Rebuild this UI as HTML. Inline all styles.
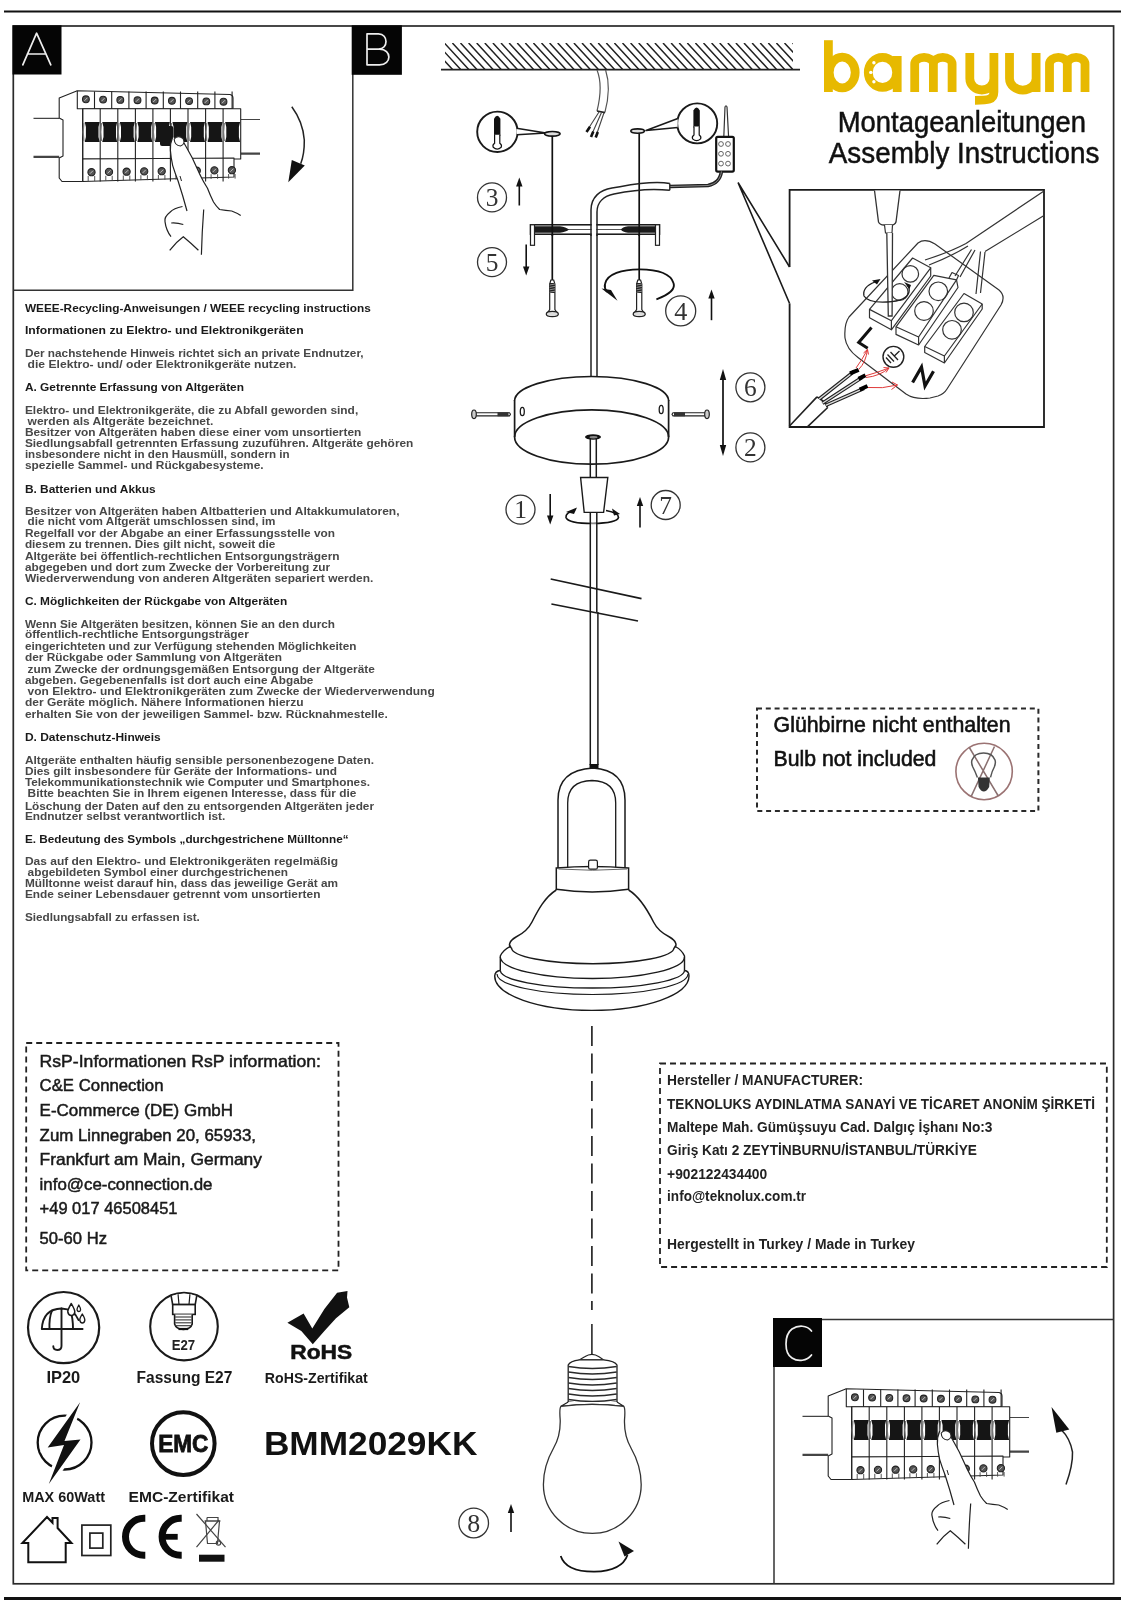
<!DOCTYPE html>
<html><head><meta charset="utf-8"><title>bamyum Montageanleitungen</title>
<style>html,body{margin:0;padding:0;background:#fff;} svg{display:block;will-change:transform;}</style>
</head><body>
<svg width="1124" height="1600" viewBox="0 0 1124 1600" font-family="Liberation Sans, sans-serif">
<rect width="1124" height="1600" fill="#fff"/>
<line x1="4" y1="11.5" x2="1121" y2="11.5" stroke="#111" stroke-width="1.8"/>
<line x1="4" y1="1598.6" x2="1121" y2="1598.6" stroke="#111" stroke-width="3.2"/>
<rect x="13.3" y="26" width="1100.3" height="1557.8" fill="none" stroke="#2a2a2a" stroke-width="1.7"/>
<polyline points="352.8,26 352.8,290.3 13.3,290.3" fill="none" stroke="#333" stroke-width="1.5"/>
<polyline points="774,1583.8 774,1319.4 1113.6,1319.4" fill="none" stroke="#333" stroke-width="1.5"/>
<rect x="12.5" y="25.3" width="49" height="49.2" fill="#050505"/>
<path d="M22.8,64.8 L36.6,33.2 L50.8,64.8 M27.3,54 L46.1,54" fill="none" stroke="#eee" stroke-width="1.7" stroke-linejoin="round" stroke-linecap="round"/>
<rect x="351.7" y="25.3" width="50.2" height="49.5" fill="#050505"/>
<path d="M367,33.8 L367,64.8 L379.5,64.8 C392,64.8 392,49.2 379.5,49.2 L367,49.2 M367,33.8 L378.5,33.8 C388.5,33.8 388.5,49.2 378.5,49.2" fill="none" stroke="#eee" stroke-width="1.7" stroke-linejoin="round" stroke-linecap="round"/>
<rect x="773" y="1318" width="49" height="49" fill="#050505"/>
<path d="M811.5,1331 C807,1325 798,1325 792,1329 C784,1335 784,1353 792,1358 C798,1362 807,1361 811.5,1355" fill="none" stroke="#eee" stroke-width="1.7" stroke-linejoin="round" stroke-linecap="round"/>
<g font-family="Liberation Sans, sans-serif">
<text x="24.9" y="311.79999999999995" font-size="10.8" font-weight="bold" fill="#1a1a1a" text-anchor="start" textLength="345.9" lengthAdjust="spacingAndGlyphs">WEEE-Recycling-Anweisungen / WEEE recycling instructions</text>
<text x="24.9" y="334.2" font-size="10.8" font-weight="bold" fill="#1a1a1a" text-anchor="start" textLength="278.7" lengthAdjust="spacingAndGlyphs">Informationen zu Elektro- und Elektronikgeräten</text>
<text x="24.9" y="357.3" font-size="11.0" font-weight="bold" fill="#484848" text-anchor="start" textLength="338.7" lengthAdjust="spacingAndGlyphs">Der nachstehende Hinweis richtet sich an private Endnutzer,</text>
<text x="27.6" y="368.1" font-size="11.0" font-weight="bold" fill="#484848" text-anchor="start" textLength="268.9" lengthAdjust="spacingAndGlyphs">die Elektro- und/ oder Elektronikgeräte nutzen.</text>
<text x="24.9" y="390.9" font-size="10.8" font-weight="bold" fill="#1a1a1a" text-anchor="start" textLength="219.1" lengthAdjust="spacingAndGlyphs">A. Getrennte Erfassung von Altgeräten</text>
<text x="24.9" y="413.8" font-size="11.0" font-weight="bold" fill="#484848" text-anchor="start" textLength="333.3" lengthAdjust="spacingAndGlyphs">Elektro- und Elektronikgeräte, die zu Abfall geworden sind,</text>
<text x="27.6" y="424.9" font-size="11.0" font-weight="bold" fill="#484848" text-anchor="start" textLength="185.8" lengthAdjust="spacingAndGlyphs">werden als Altgeräte bezeichnet.</text>
<text x="24.9" y="436.2" font-size="11.0" font-weight="bold" fill="#484848" text-anchor="start" textLength="336.4" lengthAdjust="spacingAndGlyphs">Besitzer von Altgeräten haben diese einer vom unsortierten</text>
<text x="24.9" y="447.1" font-size="11.0" font-weight="bold" fill="#484848" text-anchor="start" textLength="388.5" lengthAdjust="spacingAndGlyphs">Siedlungsabfall getrennten Erfassung zuzuführen. Altgeräte gehören</text>
<text x="24.9" y="458.1" font-size="11.0" font-weight="bold" fill="#484848" text-anchor="start" textLength="264.6" lengthAdjust="spacingAndGlyphs">insbesondere nicht in den Hausmüll, sondern in</text>
<text x="24.9" y="469.3" font-size="11.0" font-weight="bold" fill="#484848" text-anchor="start" textLength="238.7" lengthAdjust="spacingAndGlyphs">spezielle Sammel- und Rückgabesysteme.</text>
<text x="24.9" y="492.5" font-size="10.8" font-weight="bold" fill="#1a1a1a" text-anchor="start" textLength="130.7" lengthAdjust="spacingAndGlyphs">B. Batterien und Akkus</text>
<text x="24.9" y="514.8" font-size="11.0" font-weight="bold" fill="#484848" text-anchor="start" textLength="374.6" lengthAdjust="spacingAndGlyphs">Besitzer von Altgeräten haben Altbatterien und Altakkumulatoren,</text>
<text x="27.6" y="525.4" font-size="11.0" font-weight="bold" fill="#484848" text-anchor="start" textLength="247.8" lengthAdjust="spacingAndGlyphs">die nicht vom Altgerät umschlossen sind, im</text>
<text x="24.9" y="537.1" font-size="11.0" font-weight="bold" fill="#484848" text-anchor="start" textLength="310.1" lengthAdjust="spacingAndGlyphs">Regelfall vor der Abgabe an einer Erfassungsstelle von</text>
<text x="24.9" y="548.1" font-size="11.0" font-weight="bold" fill="#484848" text-anchor="start" textLength="250.5" lengthAdjust="spacingAndGlyphs">diesem zu trennen. Dies gilt nicht, soweit die</text>
<text x="24.9" y="559.8" font-size="11.0" font-weight="bold" fill="#484848" text-anchor="start" textLength="314.7" lengthAdjust="spacingAndGlyphs">Altgeräte bei öffentlich-rechtlichen Entsorgungsträgern</text>
<text x="24.9" y="570.8" font-size="11.0" font-weight="bold" fill="#484848" text-anchor="start" textLength="305.3" lengthAdjust="spacingAndGlyphs">abgegeben und dort zum Zwecke der Vorbereitung zur</text>
<text x="24.9" y="582.1" font-size="11.0" font-weight="bold" fill="#484848" text-anchor="start" textLength="348.4" lengthAdjust="spacingAndGlyphs">Wiederverwendung von anderen Altgeräten separiert werden.</text>
<text x="24.9" y="604.6" font-size="10.8" font-weight="bold" fill="#1a1a1a" text-anchor="start" textLength="262.3" lengthAdjust="spacingAndGlyphs">C. Möglichkeiten der Rückgabe von Altgeräten</text>
<text x="24.9" y="627.7" font-size="11.0" font-weight="bold" fill="#484848" text-anchor="start" textLength="310.1" lengthAdjust="spacingAndGlyphs">Wenn Sie Altgeräten besitzen, können Sie an den durch</text>
<text x="24.9" y="638.3" font-size="11.0" font-weight="bold" fill="#484848" text-anchor="start" textLength="223.9" lengthAdjust="spacingAndGlyphs">öffentlich-rechtliche Entsorgungsträger</text>
<text x="24.9" y="650.0" font-size="11.0" font-weight="bold" fill="#484848" text-anchor="start" textLength="331.5" lengthAdjust="spacingAndGlyphs">eingerichteten und zur Verfügung stehenden Möglichkeiten</text>
<text x="24.9" y="661.0" font-size="11.0" font-weight="bold" fill="#484848" text-anchor="start" textLength="257.1" lengthAdjust="spacingAndGlyphs">der Rückgabe oder Sammlung von Altgeräten</text>
<text x="27.6" y="672.7" font-size="11.0" font-weight="bold" fill="#484848" text-anchor="start" textLength="347.2" lengthAdjust="spacingAndGlyphs">zum Zwecke der ordnungsgemäßen Entsorgung der Altgeräte</text>
<text x="24.9" y="683.7" font-size="11.0" font-weight="bold" fill="#484848" text-anchor="start" textLength="288.5" lengthAdjust="spacingAndGlyphs">abgeben. Gegebenenfalls ist dort auch eine Abgabe</text>
<text x="27.6" y="695.4" font-size="11.0" font-weight="bold" fill="#484848" text-anchor="start" textLength="407.1" lengthAdjust="spacingAndGlyphs">von Elektro- und Elektronikgeräten zum Zwecke der Wiederverwendung</text>
<text x="24.9" y="706.4" font-size="11.0" font-weight="bold" fill="#484848" text-anchor="start" textLength="278.7" lengthAdjust="spacingAndGlyphs">der Geräte möglich. Nähere Informationen hierzu</text>
<text x="24.9" y="718.1" font-size="11.0" font-weight="bold" fill="#484848" text-anchor="start" textLength="362.9" lengthAdjust="spacingAndGlyphs">erhalten Sie von der jeweiligen Sammel- bzw. Rücknahmestelle.</text>
<text x="24.9" y="740.9" font-size="10.8" font-weight="bold" fill="#1a1a1a" text-anchor="start" textLength="135.8" lengthAdjust="spacingAndGlyphs">D. Datenschutz-Hinweis</text>
<text x="24.9" y="763.9" font-size="11.0" font-weight="bold" fill="#484848" text-anchor="start" textLength="349.1" lengthAdjust="spacingAndGlyphs">Altgeräte enthalten häufig sensible personenbezogene Daten.</text>
<text x="24.9" y="774.5" font-size="11.0" font-weight="bold" fill="#484848" text-anchor="start" textLength="312.0" lengthAdjust="spacingAndGlyphs">Dies gilt insbesondere für Geräte der Informations- und</text>
<text x="24.9" y="786.2" font-size="11.0" font-weight="bold" fill="#484848" text-anchor="start" textLength="345.1" lengthAdjust="spacingAndGlyphs">Telekommunikationstechnik wie Computer und Smartphones.</text>
<text x="27.6" y="797.2" font-size="11.0" font-weight="bold" fill="#484848" text-anchor="start" textLength="328.8" lengthAdjust="spacingAndGlyphs">Bitte beachten Sie in Ihrem eigenen Interesse, dass für die</text>
<text x="24.9" y="809.5" font-size="11.0" font-weight="bold" fill="#484848" text-anchor="start" textLength="349.1" lengthAdjust="spacingAndGlyphs">Löschung der Daten auf den zu entsorgenden Altgeräten jeder</text>
<text x="24.9" y="820.1" font-size="11.0" font-weight="bold" fill="#484848" text-anchor="start" textLength="200.4" lengthAdjust="spacingAndGlyphs">Endnutzer selbst verantwortlich ist.</text>
<text x="24.9" y="842.6" font-size="10.8" font-weight="bold" fill="#1a1a1a" text-anchor="start" textLength="323.7" lengthAdjust="spacingAndGlyphs">E. Bedeutung des Symbols „durchgestrichene Mülltonne“</text>
<text x="24.9" y="865.1" font-size="11.0" font-weight="bold" fill="#484848" text-anchor="start" textLength="313.1" lengthAdjust="spacingAndGlyphs">Das auf den Elektro- und Elektronikgeräten regelmäßig</text>
<text x="27.6" y="876.1" font-size="11.0" font-weight="bold" fill="#484848" text-anchor="start" textLength="260.4" lengthAdjust="spacingAndGlyphs">abgebildeten Symbol einer durchgestrichenen</text>
<text x="24.9" y="887.4" font-size="11.0" font-weight="bold" fill="#484848" text-anchor="start" textLength="313.1" lengthAdjust="spacingAndGlyphs">Mülltonne weist darauf hin, dass das jeweilige Gerät am</text>
<text x="24.9" y="898.4" font-size="11.0" font-weight="bold" fill="#484848" text-anchor="start" textLength="295.5" lengthAdjust="spacingAndGlyphs">Ende seiner Lebensdauer getrennt vom unsortierten</text>
<text x="24.9" y="921.1" font-size="11.0" font-weight="bold" fill="#484848" text-anchor="start" textLength="175.0" lengthAdjust="spacingAndGlyphs">Siedlungsabfall zu erfassen ist.</text>
</g>
<rect x="26.2" y="1043" width="312.3" height="227.4" fill="none" stroke="#222" stroke-width="1.8" stroke-dasharray="6,4"/>
<g font-family="Liberation Sans, sans-serif">
<text x="39.6" y="1066.7" font-size="17" font-weight="normal" fill="#1a1a1a" text-anchor="start" textLength="281.4" lengthAdjust="spacingAndGlyphs" stroke="#1a1a1a" stroke-width="0.5">RsP-Informationen RsP information:</text>
<text x="39.6" y="1091.0" font-size="17" font-weight="normal" fill="#1a1a1a" text-anchor="start" textLength="123.9" lengthAdjust="spacingAndGlyphs" stroke="#1a1a1a" stroke-width="0.5">C&amp;E Connection</text>
<text x="39.6" y="1116.0" font-size="17" font-weight="normal" fill="#1a1a1a" text-anchor="start" textLength="193.4" lengthAdjust="spacingAndGlyphs" stroke="#1a1a1a" stroke-width="0.5">E-Commerce (DE) GmbH</text>
<text x="39.6" y="1140.6" font-size="17" font-weight="normal" fill="#1a1a1a" text-anchor="start" textLength="216.4" lengthAdjust="spacingAndGlyphs" stroke="#1a1a1a" stroke-width="0.5">Zum Linnegraben 20, 65933,</text>
<text x="39.6" y="1164.8" font-size="17" font-weight="normal" fill="#1a1a1a" text-anchor="start" textLength="222.4" lengthAdjust="spacingAndGlyphs" stroke="#1a1a1a" stroke-width="0.5">Frankfurt am Main, Germany</text>
<text x="39.6" y="1189.5" font-size="17" font-weight="normal" fill="#1a1a1a" text-anchor="start" textLength="172.9" lengthAdjust="spacingAndGlyphs" stroke="#1a1a1a" stroke-width="0.5">info@ce-connection.de</text>
<text x="39.6" y="1213.7" font-size="17" font-weight="normal" fill="#1a1a1a" text-anchor="start" textLength="137.9" lengthAdjust="spacingAndGlyphs" stroke="#1a1a1a" stroke-width="0.5">+49 017 46508451</text>
<text x="39.6" y="1244.3" font-size="17" font-weight="normal" fill="#1a1a1a" text-anchor="start" textLength="67.4" lengthAdjust="spacingAndGlyphs" stroke="#1a1a1a" stroke-width="0.5">50-60 Hz</text>
</g>
<rect x="660" y="1063.5" width="446.8" height="203.5" fill="none" stroke="#222" stroke-width="1.8" stroke-dasharray="6,4"/>
<g font-family="Liberation Sans, sans-serif">
<text x="667.1" y="1085.0" font-size="14" font-weight="bold" fill="#222" text-anchor="start" textLength="195.9" lengthAdjust="spacingAndGlyphs">Hersteller / MANUFACTURER:</text>
<text x="667.1" y="1109.2" font-size="14" font-weight="bold" fill="#222" text-anchor="start" textLength="427.9" lengthAdjust="spacingAndGlyphs">TEKNOLUKS AYDINLATMA SANAYİ VE TİCARET ANONİM ŞİRKETİ</text>
<text x="667.1" y="1132.3" font-size="14" font-weight="bold" fill="#222" text-anchor="start" textLength="325.4" lengthAdjust="spacingAndGlyphs">Maltepe Mah. Gümüşsuyu Cad. Dalgıç İşhanı No:3</text>
<text x="667.1" y="1155.4" font-size="14" font-weight="bold" fill="#222" text-anchor="start" textLength="309.8" lengthAdjust="spacingAndGlyphs">Giriş Katı 2 ZEYTİNBURNU/İSTANBUL/TÜRKİYE</text>
<text x="667.1" y="1178.8" font-size="14" font-weight="bold" fill="#222" text-anchor="start" textLength="100.1" lengthAdjust="spacingAndGlyphs">+902122434400</text>
<text x="667.1" y="1201.2" font-size="14" font-weight="bold" fill="#222" text-anchor="start" textLength="138.9" lengthAdjust="spacingAndGlyphs">info@teknolux.com.tr</text>
<text x="667.1" y="1249.2" font-size="14" font-weight="bold" fill="#222" text-anchor="start" textLength="247.8" lengthAdjust="spacingAndGlyphs">Hergestellt in Turkey / Made in Turkey</text>
</g>
<rect x="757" y="708.5" width="281.4" height="102.5" fill="none" stroke="#2a2a2a" stroke-width="2" stroke-dasharray="5,3.8"/>
<g font-family="Liberation Sans, sans-serif">
<text x="773.6" y="731.9" font-size="22" font-weight="normal" fill="#111" text-anchor="start" textLength="236.9" lengthAdjust="spacingAndGlyphs" stroke="#111" stroke-width="0.6">Glühbirne nicht enthalten</text>
<text x="773.6" y="766" font-size="22" font-weight="normal" fill="#111" text-anchor="start" textLength="162.8" lengthAdjust="spacingAndGlyphs" stroke="#111" stroke-width="0.6">Bulb not included</text>
</g>
<g font-family="Liberation Sans, sans-serif">
<text x="837.8" y="131.6" font-size="29" font-weight="normal" fill="#111" text-anchor="start" textLength="248.2" lengthAdjust="spacingAndGlyphs" stroke="#111" stroke-width="0.5">Montageanleitungen</text>
<text x="828.8" y="162.8" font-size="29" font-weight="normal" fill="#111" text-anchor="start" textLength="270.5" lengthAdjust="spacingAndGlyphs" stroke="#111" stroke-width="0.5">Assembly Instructions</text>
<text x="263.9" y="1454.5" font-size="34" font-weight="bold" fill="#111" text-anchor="start" textLength="213.5" lengthAdjust="spacingAndGlyphs">BMM2029KK</text>
</g>
<g fill="none" stroke="#E7B900" stroke-width="8.8">
<path d="M828.4,40.2 V92"/>
<ellipse cx="842.2" cy="72.5" rx="13" ry="15.3"/>
<ellipse cx="882.5" cy="72.4" rx="14.2" ry="15"/>
<path d="M897.2,56 V92"/>
<path d="M914.7,92 V64 A9.35,6.7 0 0 1 933.4,64 V92 M933.4,64 A9.35,6.7 0 0 1 952.1,64 V92"/>
<path d="M969.8,53 V78.5 A12.05,11.5 0 0 0 993.9,78.5 M993.9,53 V92 C993.9,100 988,100.3 975,100.3"/>
<path d="M1009.5,53 V78.5 A13.25,11.5 0 0 0 1036.1,78.5 M1036.1,53 V92"/>
<path d="M1049.5,92 V64 A8.9,6.7 0 0 1 1067.3,64 V92 M1067.3,64 A8.85,6.7 0 0 1 1085,64 V92"/>
</g>
<circle cx="873.9" cy="62.8" r="1.7" fill="#fff"/>
<circle cx="870.8" cy="72.4" r="1.7" fill="#fff"/>
<circle cx="873.9" cy="81.8" r="1.7" fill="#fff"/>
<defs><clipPath id="hc"><rect x="445" y="43" width="348" height="26.5"/></clipPath></defs>
<path d="M420.0,43 L444.5,69.5 M428.1,43 L452.6,69.5 M436.2,43 L460.7,69.5 M444.3,43 L468.8,69.5 M452.4,43 L476.9,69.5 M460.5,43 L485.0,69.5 M468.6,43 L493.1,69.5 M476.7,43 L501.2,69.5 M484.8,43 L509.3,69.5 M492.9,43 L517.4,69.5 M501.0,43 L525.5,69.5 M509.1,43 L533.6,69.5 M517.2,43 L541.7,69.5 M525.3,43 L549.8,69.5 M533.4,43 L557.9,69.5 M541.5,43 L566.0,69.5 M549.6,43 L574.1,69.5 M557.7,43 L582.2,69.5 M565.8,43 L590.3,69.5 M573.9,43 L598.4,69.5 M582.0,43 L606.5,69.5 M590.1,43 L614.6,69.5 M598.2,43 L622.7,69.5 M606.3,43 L630.8,69.5 M614.4,43 L638.9,69.5 M622.5,43 L647.0,69.5 M630.6,43 L655.1,69.5 M638.7,43 L663.2,69.5 M646.8,43 L671.3,69.5 M654.9,43 L679.4,69.5 M663.0,43 L687.5,69.5 M671.1,43 L695.6,69.5 M679.2,43 L703.7,69.5 M687.3,43 L711.8,69.5 M695.4,43 L719.9,69.5 M703.5,43 L728.0,69.5 M711.6,43 L736.1,69.5 M719.7,43 L744.2,69.5 M727.8,43 L752.3,69.5 M735.9,43 L760.4,69.5 M744.0,43 L768.5,69.5 M752.1,43 L776.6,69.5 M760.2,43 L784.7,69.5 M768.3,43 L792.8,69.5 M776.4,43 L800.9,69.5 M784.5,43 L809.0,69.5 M792.6,43 L817.1,69.5" stroke="#222" stroke-width="1.5" clip-path="url(#hc)"/>
<line x1="441" y1="69.6" x2="800" y2="69.6" stroke="#222" stroke-width="1.9"/>
<path d="M597,70 C601,80 601,95 597,111" fill="none" stroke="#555" stroke-width="1.2"/>
<path d="M605.6,70 C609.5,82 609,97 604.9,112.3" fill="none" stroke="#555" stroke-width="1.2"/>
<path d="M597,111 L605,112.6" fill="none" stroke="#222" stroke-width="1.6"/>
<path d="M599,112 L587.5,130 M601.5,112.5 L591.5,135 M604,112.8 L596,136" fill="none" stroke="#444" stroke-width="1.1"/>
<g stroke="#111" stroke-width="2.6" stroke-linecap="butt"><path d="M590,126.8 L586.5,132"/><path d="M593.3,131.5 L591,137"/><path d="M597.8,132 L595.7,137.5"/></g>
<circle cx="497.4" cy="131.8" r="20.2" fill="#fff" stroke="#1a1a1a" stroke-width="1.9"/>
<path d="M516.5,128.3 L546,133 L516.8,134.8" fill="#fff" stroke="#1a1a1a" stroke-width="1.6" stroke-linejoin="round"/>
<ellipse cx="552.3" cy="133.8" rx="7.8" ry="2.3" fill="#ddd" stroke="#111" stroke-width="1.6"/>
<path d="M494.0,135.8 V118.80000000000001 Q497.2,112.80000000000001 500.4,118.80000000000001 V135.8 Z" fill="#111"/>
<path d="M494.59999999999997,134.8 V143.3 Q492.2,144.8 493.2,147.3 Q497.2,150.8 501.2,147.3 Q502.2,144.8 499.8,143.3 V134.8" fill="#fff" stroke="#111" stroke-width="1.2"/>
<circle cx="697.2" cy="123.4" r="20.0" fill="#fff" stroke="#1a1a1a" stroke-width="1.9"/>
<path d="M677.8,118.5 L646,130.5 L677.6,127.5" fill="#fff" stroke="#1a1a1a" stroke-width="1.6" stroke-linejoin="round"/>
<ellipse cx="637.6" cy="131.1" rx="6.8" ry="2.2" fill="#ddd" stroke="#111" stroke-width="1.6"/>
<path d="M693.4,127.4 V110.4 Q696.6,104.4 699.8000000000001,110.4 V127.4 Z" fill="#111"/>
<path d="M694.0,126.4 V134.9 Q691.6,136.4 692.6,138.9 Q696.6,142.4 700.6,138.9 Q701.6,136.4 699.2,134.9 V126.4" fill="#fff" stroke="#111" stroke-width="1.2"/>
<line x1="552.3" y1="136" x2="552.3" y2="281" stroke="#111" stroke-width="1.7"/>
<line x1="639.2" y1="133.3" x2="639.2" y2="281" stroke="#111" stroke-width="1.7"/>
<path d="M723.8,137 L725,107 Q726,104.5 727,107 L728.6,137" fill="#fff" stroke="#333" stroke-width="1.2"/>
<rect x="716.2" y="136.8" width="17.6" height="34.8" rx="1.5" fill="#fff" stroke="#111" stroke-width="2.2"/>
<circle cx="721.0" cy="144" r="2.4" fill="none" stroke="#555" stroke-width="0.9"/>
<circle cx="721.0" cy="153.8" r="2.4" fill="none" stroke="#555" stroke-width="0.9"/>
<circle cx="721.0" cy="163.6" r="2.4" fill="none" stroke="#555" stroke-width="0.9"/>
<circle cx="728.0" cy="144" r="2.4" fill="none" stroke="#555" stroke-width="0.9"/>
<circle cx="728.0" cy="153.8" r="2.4" fill="none" stroke="#555" stroke-width="0.9"/>
<circle cx="728.0" cy="163.6" r="2.4" fill="none" stroke="#555" stroke-width="0.9"/>
<path d="M721.5,171.5 C720,180 716,184 708,185.5 L670,186.5" fill="none" stroke="#222" stroke-width="3.6"/>
<path d="M721.5,171.5 C720,180 716,184 708,185.5 L670,186.5" fill="none" stroke="#888" stroke-width="1.0"/>
<path d="M669.8,183.6 C650,180 625,186 612,188 C600,190 591,197 591,210 L591,376" fill="none" stroke="#222" stroke-width="1.5"/>
<path d="M669.8,190.3 C650,188 628,191 614,194 C604,196 597,202 597,212 L597,376" fill="none" stroke="#222" stroke-width="1.5"/>
<line x1="669.8" y1="183.6" x2="669.8" y2="190.3" stroke="#222" stroke-width="1.4"/>
<rect x="530.5" y="224.8" width="129" height="9.4" fill="#fff" stroke="#111" stroke-width="1.5"/>
<line x1="534.5" y1="229.5" x2="655.5" y2="229.5" stroke="#555" stroke-width="1.0"/>
<path d="M534.5,226.2 L560,226.2 Q566,227 569,229.5 Q566,232 560,232.8 L534.5,232.8 Z" fill="#1a1a1a"/>
<path d="M655.5,226.2 L628,226.2 Q622,227 621,229.5 Q622,232 628,232.8 L655.5,232.8 Z" fill="#1a1a1a"/>
<rect x="530.5" y="224.8" width="4" height="20.5" fill="#fff" stroke="#222" stroke-width="1.2"/>
<rect x="655.5" y="224.8" width="4" height="20.5" fill="#fff" stroke="#222" stroke-width="1.2"/>
<rect x="591.7" y="224" width="4.6" height="11" fill="#fff"/>
<line x1="591" y1="224" x2="591" y2="236" stroke="#222" stroke-width="1.5"/>
<line x1="597" y1="224" x2="597" y2="236" stroke="#222" stroke-width="1.5"/>
<line x1="552.3" y1="224" x2="552.3" y2="236" stroke="#111" stroke-width="1.7"/>
<line x1="639.2" y1="224" x2="639.2" y2="236" stroke="#111" stroke-width="1.7"/>
<path d="M550.9,280 L549.6999999999999,284 L549.6999999999999,309.5 L546.8,314.0 L557.8,314.0 L554.9,309.5 L554.9,284 L553.6999999999999,280 Z" fill="#fff" stroke="#222" stroke-width="1.2"/>
<rect x="549.6999999999999" y="283" width="5.2" height="10" fill="#222"/>
<line x1="549.6999999999999" y1="285.0" x2="554.9" y2="284.0" stroke="#aaa" stroke-width="0.8"/>
<line x1="549.6999999999999" y1="287.4" x2="554.9" y2="286.4" stroke="#aaa" stroke-width="0.8"/>
<line x1="549.6999999999999" y1="289.8" x2="554.9" y2="288.8" stroke="#aaa" stroke-width="0.8"/>
<line x1="549.6999999999999" y1="292.2" x2="554.9" y2="291.2" stroke="#aaa" stroke-width="0.8"/>
<ellipse cx="552.3" cy="314.0" rx="6" ry="2.6" fill="#ddd" stroke="#222" stroke-width="1.2"/>
<path d="M637.8000000000001,280 L636.6,284 L636.6,309.5 L633.7,314.0 L644.7,314.0 L641.8000000000001,309.5 L641.8000000000001,284 L640.6,280 Z" fill="#fff" stroke="#222" stroke-width="1.2"/>
<rect x="636.6" y="283" width="5.2" height="10" fill="#222"/>
<line x1="636.6" y1="285.0" x2="641.8000000000001" y2="284.0" stroke="#aaa" stroke-width="0.8"/>
<line x1="636.6" y1="287.4" x2="641.8000000000001" y2="286.4" stroke="#aaa" stroke-width="0.8"/>
<line x1="636.6" y1="289.8" x2="641.8000000000001" y2="288.8" stroke="#aaa" stroke-width="0.8"/>
<line x1="636.6" y1="292.2" x2="641.8000000000001" y2="291.2" stroke="#aaa" stroke-width="0.8"/>
<ellipse cx="639.2" cy="314.0" rx="6" ry="2.6" fill="#ddd" stroke="#222" stroke-width="1.2"/>
<path d="M656.4,299.3 C668,295 676,290 673.5,283 C670,272 655,269.5 639.6,269.4 C622,269.5 607,274 605,284 C604,288 605.5,290 607,292" fill="none" stroke="#111" stroke-width="1.9"/>
<polygon points="601.5,288.5 611,290 617.5,300.8" fill="#111"/>
<circle cx="492.0" cy="197.4" r="14.5" fill="none" stroke="#333" stroke-width="1.3"/>
<text x="492.0" y="206.0275" font-size="25.4" font-family="Liberation Serif, serif" fill="#333" text-anchor="middle">3</text>
<line x1="519.3" y1="205.5" x2="519.3" y2="183.8" stroke="#111" stroke-width="1.6"/>
<polygon points="516.0999999999999,186.5 522.5,186.5 519.3,177.5" fill="#111"/>
<circle cx="492.0" cy="262.1" r="14.5" fill="none" stroke="#333" stroke-width="1.3"/>
<text x="492.0" y="270.7275" font-size="25.4" font-family="Liberation Serif, serif" fill="#333" text-anchor="middle">5</text>
<line x1="526.2" y1="244.6" x2="526.2" y2="269.09999999999997" stroke="#111" stroke-width="1.6"/>
<polygon points="523.0,266.4 529.4000000000001,266.4 526.2,275.4" fill="#111"/>
<circle cx="680.7" cy="310.9" r="15" fill="none" stroke="#333" stroke-width="1.3"/>
<text x="680.7" y="319.825" font-size="26.2" font-family="Liberation Serif, serif" fill="#333" text-anchor="middle">4</text>
<line x1="711.5" y1="320.2" x2="711.5" y2="295.7" stroke="#111" stroke-width="1.6"/>
<polygon points="708.3,298.4 714.7,298.4 711.5,289.4" fill="#111"/>
<path d="M738,182.5 L789.6,267 M738,182.5 L789.6,303.5" fill="none" stroke="#1a1a1a" stroke-width="1.6"/>
<path d="M789.6,267 L789.6,189.8 L1044,189.8 L1044,427 L789.6,427 L789.6,303.5" fill="none" stroke="#1a1a1a" stroke-width="1.8"/>
<g fill="none" stroke="#333" stroke-width="1.2" stroke-linejoin="round">
<path d="M918,243 L849,317 Q844,324 845,338 Q846.5,349 858,357.5 L906,394 Q915,400 930,398 L938,396 Q944,394 947,389 L1001,305 Q1006,296 999,290 L935,244 Q925,238 918,243 Z" fill="#fff"/>
<path d="M1044,191 L966,243.5 M1044,215.5 L985,251.5"/>
<path d="M966,243.5 Q950,252 925,260 M971.5,249.5 L955,276 M980.5,251.5 L976,294"/>
<path d="M968,246 Q952,256 929,265 M975,250 L960,277 M985,252 L980.5,293"/>
<path d="M869.5,309.4 L912.6,258 L930.7,267.8 L891.4,320.7 L891.4,329.8 L869.5,317.7 Z" fill="#fff"/>
<circle cx="910.3" cy="273.9" r="8.3"/>
<circle cx="899.7" cy="292" r="8.3"/>
<path d="M891.4,320.7 L869.5,309.4 M930.7,267.8 L930.7,276 L891.4,329.8"/>
<path d="M896,326.8 L933.8,275.4 L956.5,279.9 L958,287.5 L918.6,345 L896,334.4 Z" fill="#fff"/>
<circle cx="938.3" cy="291.3" r="9.3"/>
<circle cx="924" cy="311" r="9.3"/>
<path d="M896,326.8 L918.6,337 L956.5,279.9 M918.6,337 L918.6,345"/>
<path d="M949,278 L952,272.5 L958.5,275.5 L956.5,280"/>
<path d="M924.7,346.5 L964,293.5 L982.2,304 L982.2,309 L944.4,363 L924.7,352.5 Z" fill="#fff"/>
<circle cx="964" cy="312.4" r="9.3"/>
<circle cx="952" cy="329.8" r="9.3"/>
<path d="M924.7,346.5 L944.4,356 L982.2,304 M944.4,356 L944.4,363"/>
</g>
<path d="M874.5,190.5 L878.5,222 Q880,225 884,225 L891,225 Q895,225 896,222 L900,190.5" fill="#fff" stroke="#333" stroke-width="1.3"/>
<path d="M884.5,225 L885.5,233 L892,233 L892.5,225" fill="#fff" stroke="#333" stroke-width="1.2"/>
<path d="M886.8,233 L888.3,316 L892.1,316 L892.5,233" fill="#fff" stroke="#333" stroke-width="1.3"/>
<path d="M875,282 Q862,287 864,296 Q868,303 887,302 Q907,301 909,292 Q910,288 907,285" fill="none" stroke="#222" stroke-width="1.3"/>
<polygon points="872,280.5 880.5,279 877,284.5" fill="#111"/>
<polygon points="904,282 911,285 909.5,289" fill="#111"/>
<path d="M871.5,327.5 L858.7,342.4 L867.7,348.3" fill="none" stroke="#111" stroke-width="3.0" stroke-linejoin="miter"/>
<circle cx="893.4" cy="356.8" r="10.4" fill="#fff" stroke="#222" stroke-width="1.4"/>
<path d="M890.5,352 L898,360 M894.3,356 L899.5,351 M887.5,354.5 L894,361.5 M886,357.5 L891,363" fill="none" stroke="#222" stroke-width="1.3"/>
<path d="M912.6,382.5 L921.5,367 L925,386 L933.5,371.2" fill="none" stroke="#111" stroke-width="3.2" stroke-linejoin="miter"/>
<path d="M789.3,426.2 L817,396.9 M807.4,426.8 L827.7,407.5" fill="none" stroke="#222" stroke-width="1.6"/>
<path d="M817,396.9 Q824,400 827.7,407.5" fill="none" stroke="#222" stroke-width="1.6"/>
<g fill="none" stroke-linecap="butt">
<path d="M819.2,399 L854.4,371.2 M822.4,403.3 L861.9,377.6 M825.6,405.4 L864,388.3" stroke="#222" stroke-width="3.6"/>
<path d="M819.2,399 L854.4,371.2 M822.4,403.3 L861.9,377.6 M825.6,405.4 L864,388.3" stroke="#ddd" stroke-width="1.3"/>
<path d="M850,373.4 L858.7,369.8 M858.5,378.9 L865.5,375.3 M859.7,389.6 L867.5,386" stroke="#000" stroke-width="4"/>
</g>
<g fill="none" stroke="#e03a3a" stroke-width="1.0">
<path d="M858.7,369.5 Q866,362 867.5,349.5 M856,368 Q862,360 867.5,349.5 M863.5,353 L867.5,349.5 L868.5,354.5"/>
<path d="M865.5,375.8 Q876,373 889,368 M866,377.5 Q880,376 889,368 M883.5,367.5 L889,368 L886,372.5"/>
<path d="M868,387.5 Q882,389 897.5,385 M892,382 L897.5,385 L891.5,389.5"/>
</g>
<path d="M514.6,400 L514.6,437 A77,27.2 0 0 0 668.6,437 L668.6,400" fill="#fff" stroke="#1a1a1a" stroke-width="1.7"/>
<path d="M514.6,401 A77,24.5 0 0 1 668.6,401" fill="#fff" stroke="#1a1a1a" stroke-width="1.7"/>
<path d="M514.6,437 A77,27.2 0 0 1 668.6,437" fill="none" stroke="#1a1a1a" stroke-width="1.7"/>
<ellipse cx="522.3" cy="411.5" rx="2" ry="4.2" fill="#fff" stroke="#1a1a1a" stroke-width="1.3"/>
<ellipse cx="661.2" cy="409.5" rx="2" ry="4.2" fill="#fff" stroke="#1a1a1a" stroke-width="1.3"/>
<path d="M474.5,412.7 L509.5,412.7 L510.5,414.3 L509.5,415.90000000000003 L474.5,415.90000000000003" fill="#fff" stroke="#222" stroke-width="1.1"/>
<rect x="497.5" y="412.3" width="11" height="4" fill="#333"/>
<ellipse cx="474.0" cy="414.3" rx="2.3" ry="4.3" fill="#ccc" stroke="#222" stroke-width="1.2"/>
<path d="M706.5,412.7 L673,412.7 L672,414.3 L673,415.90000000000003 L706.5,415.90000000000003" fill="#fff" stroke="#222" stroke-width="1.1"/>
<rect x="674" y="412.3" width="11" height="4" fill="#333"/>
<ellipse cx="707.0" cy="414.3" rx="2.3" ry="4.3" fill="#ccc" stroke="#222" stroke-width="1.2"/>
<ellipse cx="593" cy="437" rx="8" ry="2.8" fill="#111"/>
<ellipse cx="593.5" cy="437.3" rx="4" ry="1.2" fill="#888"/>
<line x1="590.3" y1="438" x2="590.3" y2="478" stroke="#1a1a1a" stroke-width="1.5"/>
<line x1="596.3" y1="438" x2="596.3" y2="478" stroke="#1a1a1a" stroke-width="1.5"/>
<path d="M580.6,477.5 L607.8,477.5 L603.6,512.4 L584.2,512.4 Z" fill="#fff" stroke="#1a1a1a" stroke-width="1.4"/>
<path d="M606,510.5 Q619,513 618.5,517.5 Q617,523 593,523.5 Q568,523.5 566,517.5 Q565,513 575,510" fill="none" stroke="#111" stroke-width="1.7"/>
<polygon points="566,512 577,507.5 574,514" fill="#111"/>
<polygon points="612,508.5 620,514 614,515.5" fill="#111"/>
<line x1="590.3" y1="512.4" x2="590.3" y2="612" stroke="#1a1a1a" stroke-width="1.5"/>
<line x1="596.8" y1="512.4" x2="596.8" y2="612" stroke="#1a1a1a" stroke-width="1.5"/>
<rect x="591" y="523.5" width="5" height="1" fill="#fff"/>
<circle cx="520.5" cy="509.6" r="14.5" fill="none" stroke="#333" stroke-width="1.3"/>
<text x="520.5" y="518.2275000000001" font-size="25.4" font-family="Liberation Serif, serif" fill="#333" text-anchor="middle">1</text>
<line x1="550.2" y1="494" x2="550.2" y2="518.2" stroke="#111" stroke-width="1.6"/>
<polygon points="547.0,515.5 553.4000000000001,515.5 550.2,524.5" fill="#111"/>
<circle cx="665.7" cy="505" r="14.5" fill="none" stroke="#333" stroke-width="1.3"/>
<text x="665.7" y="513.6275" font-size="25.4" font-family="Liberation Serif, serif" fill="#333" text-anchor="middle">7</text>
<line x1="640" y1="527.5" x2="640" y2="503.3" stroke="#111" stroke-width="1.6"/>
<polygon points="636.8,506 643.2,506 640,497" fill="#111"/>
<circle cx="750.4" cy="387.3" r="14.5" fill="none" stroke="#333" stroke-width="1.3"/>
<text x="750.4" y="395.9275" font-size="25.4" font-family="Liberation Serif, serif" fill="#333" text-anchor="middle">6</text>
<circle cx="750.4" cy="447.4" r="14.5" fill="none" stroke="#333" stroke-width="1.3"/>
<text x="750.4" y="456.0275" font-size="25.4" font-family="Liberation Serif, serif" fill="#333" text-anchor="middle">2</text>
<line x1="723" y1="375" x2="723" y2="450" stroke="#111" stroke-width="1.7"/>
<polygon points="719.8,380 726.2,380 723,369" fill="#111"/>
<polygon points="719.8,445 726.2,445 723,456" fill="#111"/>
<line x1="550.7" y1="579" x2="641.5" y2="598.6" stroke="#1a1a1a" stroke-width="1.7"/>
<line x1="551.4" y1="604" x2="638" y2="621" stroke="#1a1a1a" stroke-width="1.7"/>
<line x1="590.3" y1="612" x2="590.3" y2="765" stroke="#1a1a1a" stroke-width="1.5"/>
<line x1="597.9" y1="612" x2="597.9" y2="765" stroke="#1a1a1a" stroke-width="1.5"/>
<path d="M589.5,764 L598.5,764 L598.5,768 L589.5,768 Z" fill="#111"/>
<path d="M558,868 L558,800 Q558,770 593,768 Q625,770 625,800 L625,868" fill="none" stroke="#1a1a1a" stroke-width="1.5"/>
<path d="M567.7,868 L567.7,803 Q567.7,781 592,780.5 Q615.7,781 615.7,803 L615.7,868" fill="none" stroke="#1a1a1a" stroke-width="1.3"/>
<path d="M556.3,868 L556.3,890 Q592,894 628.6,890 L628.6,868 Q592,865 556.3,868 Z" fill="#fff" stroke="#1a1a1a" stroke-width="1.5"/>
<path d="M558.5,869 Q592,871.5 627,869" fill="none" stroke="#555" stroke-width="0.9"/>
<rect x="588.6" y="860.2" width="8.8" height="9" rx="1.8" fill="#fff" stroke="#1a1a1a" stroke-width="1.2"/>
<path d="M556.3,890 C545,897 538,910 532,922 C528,930 522,934 516,937 C509,941 508,946 511.5,948 L674,948 C677.5,946 676.5,941 669.5,937 C663.5,934 657.5,930 653.5,922 C647.5,910 640,897 628.6,890 Z" fill="#fff" stroke="none"/>
<path d="M556.3,890 C545,897 538,910 532,922 C528,930 522,934 516,937 C509,941 508,946 511.5,948 M674,948 C677.5,946 676.5,941 669.5,937 C663.5,934 657.5,930 653.5,922 C647.5,910 640,897 628.6,890" fill="none" stroke="#1a1a1a" stroke-width="1.5" stroke-linejoin="round"/>
<path d="M511.5,947.8 A81.25,15.9 0 0 0 674,947.8" fill="none" stroke="#1a1a1a" stroke-width="1.4"/>
<path d="M556.3,889.3 Q592,894.5 628.6,889.3" fill="none" stroke="#1a1a1a" stroke-width="1.5"/>
<path d="M511,946 Q503,950 500.3,956 L500.3,970.5 M674.5,946 Q682,950 684.5,956 L684.5,970.5" fill="none" stroke="#1a1a1a" stroke-width="1.4"/>
<path d="M500.3,957 A92.1,21.5 0 0 0 684.5,957" fill="none" stroke="#1a1a1a" stroke-width="1.3"/>
<path d="M500.3,970.2 A92.1,17.8 0 0 0 684.5,970.2" fill="none" stroke="#1a1a1a" stroke-width="1.3"/>
<path d="M497,974 A95.5,20.5 0 0 0 688,974" fill="none" stroke="#1a1a1a" stroke-width="1.2"/>
<path d="M500.3,970.5 Q495,971 494.7,976 A97.15,34.4 0 0 0 689,976 Q689,971 684.5,970.5" fill="none" stroke="#1a1a1a" stroke-width="1.4"/>
<line x1="591.9" y1="1026" x2="591.9" y2="1310" stroke="#1a1a1a" stroke-width="1.6" stroke-dasharray="20,7.5"/>
<line x1="591.9" y1="1324" x2="591.9" y2="1354" stroke="#1a1a1a" stroke-width="1.5"/>
<path d="M584.7,1356.8 Q592,1352 599,1356.8 L603.5,1359.8 L579.5,1359.8 Z" fill="#fff" stroke="#222" stroke-width="1.2"/>
<path d="M579.5,1359.8 Q570,1361 568.2,1365 L568.2,1402 Q592,1406 617,1402 L617,1365 Q615,1361 603.5,1359.8 Z" fill="#fff" stroke="#222" stroke-width="1.3"/>
<path d="M568.5,1366.5 Q592,1370.5 616.7,1366.5" fill="none" stroke="#2a2a2a" stroke-width="1.6"/>
<path d="M568.5,1372.0 Q592,1376.0 616.7,1372.0" fill="none" stroke="#2a2a2a" stroke-width="1.6"/>
<path d="M568.5,1377.5 Q592,1381.5 616.7,1377.5" fill="none" stroke="#2a2a2a" stroke-width="1.6"/>
<path d="M568.5,1383.0 Q592,1387.0 616.7,1383.0" fill="none" stroke="#2a2a2a" stroke-width="1.6"/>
<path d="M568.5,1388.5 Q592,1392.5 616.7,1388.5" fill="none" stroke="#2a2a2a" stroke-width="1.6"/>
<path d="M568.5,1394.0 Q592,1398.0 616.7,1394.0" fill="none" stroke="#2a2a2a" stroke-width="1.6"/>
<path d="M568.5,1399.5 Q592,1403.5 616.7,1399.5" fill="none" stroke="#2a2a2a" stroke-width="1.6"/>
<path d="M568.2,1402 L561,1406.3 Q592,1402.5 623.7,1406.3 L617,1402" fill="#fff" stroke="#222" stroke-width="1.2"/>
<path d="M561,1406.3 Q592,1402.5 623.7,1406.3 Q625.5,1408 624.5,1420 Q624,1436 631,1448 Q641.2,1466 641.2,1484.5 A48.9,48.9 0 0 1 543.4,1484.5 Q543.4,1466 553.6,1448 Q560.6,1436 560.2,1420 Q559.2,1408 561,1406.3 Z" fill="#fff" stroke="#333" stroke-width="1.3"/>
<circle cx="473.7" cy="1523" r="14.8" fill="none" stroke="#333" stroke-width="1.3"/>
<text x="473.7" y="1531.806" font-size="25.9" font-family="Liberation Serif, serif" fill="#333" text-anchor="middle">8</text>
<line x1="511" y1="1532" x2="511" y2="1510.3" stroke="#111" stroke-width="1.6"/>
<polygon points="507.8,1513 514.2,1513 511,1504" fill="#111"/>
<path d="M560.7,1556 Q566,1572 594.5,1571.7 Q622,1571 627.5,1555" fill="none" stroke="#111" stroke-width="1.8"/>
<polygon points="618.5,1541.5 634,1551 624.5,1556.5" fill="#111"/>
<g transform="translate(0,0)" fill="none" stroke="#222" stroke-width="1.1" stroke-linejoin="round">
<path d="M33.5,118.4 L59.2,118.4 M240.7,119.5 L260,119.5" stroke="#444" stroke-width="1.1"/>
<path d="M33.5,156.9 L59.2,156.9 M240.7,153.7 L260,153.7" stroke="#444" stroke-width="2.2"/>
<path d="M77.3,90.7 L59.2,98 L59.2,118 L63,120 L63,156 L59.2,158 L59.2,178 L62,181.5 L82.7,181.5" fill="#fff"/>
<path d="M77.3,90.7 L230,94.5 Q233,95 233,98 L233,108.8 L77.3,108.8 Z" fill="#fff"/>
<path d="M82.7,108.8 L240.7,108.8 L240.7,159 L82.7,159 Z" fill="#fff"/>
<path d="M82.7,159 L234,158 L234,177 L82.7,181.5 Z" fill="#fff"/>
<path d="M94.5,91.5 L94.5,108.8"/>
<circle cx="85.9" cy="99.3" r="3.4" fill="#555" stroke="#222"/>
<path d="M84.4,100.8 L87.4,97.8" stroke="#ddd" stroke-width="0.8"/>
<path d="M82.7,108.8 L82.7,159"/>
<path d="M84.7,122 L99.7,122 L98.5,127 L98.5,137 L99.7,142 L84.7,142 L85.9,137 L85.9,127 Z" fill="#151515" stroke="none"/>
<path d="M83.9,123 Q82.4,132 83.9,141" stroke="#777" stroke-width="1.3"/>
<path d="M82.7,159 L82.7,181.5"/>
<circle cx="91.5" cy="172.2" r="3.6" fill="#555" stroke="#222"/>
<path d="M90.0,173.7 L93.0,170.7" stroke="#ddd" stroke-width="0.8"/>
<path d="M88.2,176.0 L88.2,181.0 M94.7,176.0 L94.7,181.0" stroke="#444" stroke-width="0.9"/>
<path d="M111.7,91.5 L111.7,108.8"/>
<circle cx="103.1" cy="99.6" r="3.4" fill="#555" stroke="#222"/>
<path d="M101.6,101.1 L104.6,98.1" stroke="#ddd" stroke-width="0.8"/>
<path d="M100.2,108.8 L100.2,159"/>
<path d="M102.2,122 L117.2,122 L116.0,127 L116.0,137 L117.2,142 L102.2,142 L103.5,137 L103.5,127 Z" fill="#151515" stroke="none"/>
<path d="M101.5,123 Q100.0,132 101.5,141" stroke="#777" stroke-width="1.3"/>
<path d="M100.2,159 L100.2,181.5"/>
<circle cx="109.0" cy="171.9" r="3.6" fill="#555" stroke="#222"/>
<path d="M107.5,173.4 L110.5,170.4" stroke="#ddd" stroke-width="0.8"/>
<path d="M105.8,175.8 L105.8,180.7 M112.2,175.8 L112.2,180.7" stroke="#444" stroke-width="0.9"/>
<path d="M128.9,91.5 L128.9,108.8"/>
<circle cx="120.3" cy="99.9" r="3.4" fill="#555" stroke="#222"/>
<path d="M118.8,101.4 L121.8,98.4" stroke="#ddd" stroke-width="0.8"/>
<path d="M117.8,108.8 L117.8,159"/>
<path d="M119.8,122 L134.8,122 L133.6,127 L133.6,137 L134.8,142 L119.8,142 L121.0,137 L121.0,127 Z" fill="#151515" stroke="none"/>
<path d="M119.0,123 Q117.5,132 119.0,141" stroke="#777" stroke-width="1.3"/>
<path d="M117.8,159 L117.8,181.5"/>
<circle cx="126.6" cy="171.7" r="3.6" fill="#555" stroke="#222"/>
<path d="M125.1,173.2 L128.1,170.2" stroke="#ddd" stroke-width="0.8"/>
<path d="M123.3,175.5 L123.3,180.4 M129.8,175.5 L129.8,180.4" stroke="#444" stroke-width="0.9"/>
<path d="M146.1,91.5 L146.1,108.8"/>
<circle cx="137.5" cy="100.2" r="3.4" fill="#555" stroke="#222"/>
<path d="M136.0,101.7 L139.0,98.7" stroke="#ddd" stroke-width="0.8"/>
<path d="M135.4,108.8 L135.4,159"/>
<path d="M137.4,122 L152.4,122 L151.2,127 L151.2,137 L152.4,142 L137.4,142 L138.6,137 L138.6,127 Z" fill="#151515" stroke="none"/>
<path d="M136.6,123 Q135.1,132 136.6,141" stroke="#777" stroke-width="1.3"/>
<path d="M135.4,159 L135.4,181.5"/>
<circle cx="144.2" cy="171.4" r="3.6" fill="#555" stroke="#222"/>
<path d="M142.7,172.9 L145.7,169.9" stroke="#ddd" stroke-width="0.8"/>
<path d="M140.9,175.2 L140.9,180.1 M147.4,175.2 L147.4,180.1" stroke="#444" stroke-width="0.9"/>
<path d="M163.3,91.5 L163.3,108.8"/>
<circle cx="154.7" cy="100.5" r="3.4" fill="#555" stroke="#222"/>
<path d="M153.2,102.0 L156.2,99.0" stroke="#ddd" stroke-width="0.8"/>
<path d="M152.9,108.8 L152.9,159"/>
<path d="M154.9,122 L169.9,122 L168.7,127 L168.7,137 L169.9,142 L154.9,142 L156.1,137 L156.1,127 Z" fill="#151515" stroke="none"/>
<path d="M154.1,123 Q152.6,132 154.1,141" stroke="#777" stroke-width="1.3"/>
<path d="M152.9,159 L152.9,181.5"/>
<circle cx="161.7" cy="171.2" r="3.6" fill="#555" stroke="#222"/>
<path d="M160.2,172.7 L163.2,169.7" stroke="#ddd" stroke-width="0.8"/>
<path d="M158.4,175.0 L158.4,179.8 M164.9,175.0 L164.9,179.8" stroke="#444" stroke-width="0.9"/>
<path d="M180.5,91.5 L180.5,108.8"/>
<circle cx="171.9" cy="100.8" r="3.4" fill="#555" stroke="#222"/>
<path d="M170.4,102.3 L173.4,99.3" stroke="#ddd" stroke-width="0.8"/>
<path d="M170.4,108.8 L170.4,159"/>
<path d="M172.4,122 L187.4,122 L186.2,127 L186.2,137 L187.4,142 L172.4,142 L173.6,137 L173.6,127 Z" fill="#151515" stroke="none"/>
<path d="M171.6,123 Q170.1,132 171.6,141" stroke="#777" stroke-width="1.3"/>
<path d="M170.4,159 L170.4,181.5"/>
<circle cx="179.2" cy="170.9" r="3.6" fill="#555" stroke="#222"/>
<path d="M177.8,172.4 L180.8,169.4" stroke="#ddd" stroke-width="0.8"/>
<path d="M175.9,174.8 L175.9,179.5 M182.4,174.8 L182.4,179.5" stroke="#444" stroke-width="0.9"/>
<path d="M197.7,91.5 L197.7,108.8"/>
<circle cx="189.1" cy="101.1" r="3.4" fill="#555" stroke="#222"/>
<path d="M187.6,102.6 L190.6,99.6" stroke="#ddd" stroke-width="0.8"/>
<path d="M188.0,108.8 L188.0,159"/>
<path d="M190.0,122 L205.0,122 L203.8,127 L203.8,137 L205.0,142 L190.0,142 L191.2,137 L191.2,127 Z" fill="#151515" stroke="none"/>
<path d="M189.2,123 Q187.7,132 189.2,141" stroke="#777" stroke-width="1.3"/>
<path d="M188.0,159 L188.0,181.5"/>
<circle cx="196.8" cy="170.7" r="3.6" fill="#555" stroke="#222"/>
<path d="M195.3,172.2 L198.3,169.2" stroke="#ddd" stroke-width="0.8"/>
<path d="M193.5,174.5 L193.5,179.2 M200.0,174.5 L200.0,179.2" stroke="#444" stroke-width="0.9"/>
<path d="M214.9,91.5 L214.9,108.8"/>
<circle cx="206.3" cy="101.4" r="3.4" fill="#555" stroke="#222"/>
<path d="M204.8,102.9 L207.8,99.9" stroke="#ddd" stroke-width="0.8"/>
<path d="M205.6,108.8 L205.6,159"/>
<path d="M207.6,122 L222.6,122 L221.4,127 L221.4,137 L222.6,142 L207.6,142 L208.8,137 L208.8,127 Z" fill="#151515" stroke="none"/>
<path d="M206.8,123 Q205.2,132 206.8,141" stroke="#777" stroke-width="1.3"/>
<path d="M205.6,159 L205.6,181.5"/>
<circle cx="214.4" cy="170.4" r="3.6" fill="#555" stroke="#222"/>
<path d="M212.9,171.9 L215.9,168.9" stroke="#ddd" stroke-width="0.8"/>
<path d="M211.1,174.2 L211.1,178.9 M217.6,174.2 L217.6,178.9" stroke="#444" stroke-width="0.9"/>
<path d="M232.1,91.5 L232.1,108.8"/>
<circle cx="223.5" cy="101.7" r="3.4" fill="#555" stroke="#222"/>
<path d="M222.0,103.2 L225.0,100.2" stroke="#ddd" stroke-width="0.8"/>
<path d="M223.1,108.8 L223.1,159"/>
<path d="M225.1,122 L240.1,122 L238.9,127 L238.9,137 L240.1,142 L225.1,142 L226.3,137 L226.3,127 Z" fill="#151515" stroke="none"/>
<path d="M224.3,123 Q222.8,132 224.3,141" stroke="#777" stroke-width="1.3"/>
<path d="M223.1,159 L223.1,181.5"/>
<circle cx="231.9" cy="170.2" r="3.6" fill="#555" stroke="#222"/>
<path d="M230.4,171.7 L233.4,168.7" stroke="#ddd" stroke-width="0.8"/>
<path d="M228.6,174.0 L228.6,178.6 M235.1,174.0 L235.1,178.6" stroke="#444" stroke-width="0.9"/>
<rect x="160" y="126" width="13.4" height="20" rx="2" fill="#151515" stroke="none"/>
<g transform="translate(0,0)">
<path d="M172.7,136.9 Q170,143 170.4,150.5 Q171,158 172.7,165.6 Q175,173 178,180.7 Q183,196 187,211 L182.5,206.5 Q174,208 169.7,212.5 Q164,217 165,221.6 Q166,230 171,236.7 L169.7,250.3 L201.4,254.8 L203.7,209.5 Q212,210 219.6,209.5 Q226,210.5 231.7,211 Q237,213 240.7,215.5 L236,209 Q222,206 219.6,209.5 Q216,205 213.5,202 Q210,195 207.5,188.3 Q203,181 200,174.7 Q196,166 192.3,158 Q188,150 184,143 Z" fill="#fff" stroke="none"/>
<path d="M172.7,136.9 Q170,143 170.4,150.5 Q171,158 172.7,165.6 Q175,173 178,180.7 Q183,196 187,211 M184,143 Q188,150 192.3,158 Q196,166 200,174.7 Q203,181 207.5,188.3 Q210,195 213.5,202 Q216,206 219.6,209.5 Q226,210.5 231.7,211 Q237,213 240.7,215.5" fill="none" stroke="#222" stroke-width="1.2"/>
<path d="M182.5,206.5 Q174,208 169.7,212.5 Q164,217 165,221.6 Q166,230 171,236.7 M169.7,250.3 Q176,242 183.3,236.7 Q191,243 198.4,250.3 M203.7,209.5 Q202,232 201.4,254.8" fill="none" stroke="#222" stroke-width="1.2"/>
<path d="M171.2,223 Q177,222.5 183.3,224.6" stroke-width="1.1"/>
<path d="M180,176 L181.5,181" stroke-width="1.0"/>
<path d="M174.2,139 Q178,134.5 183,138.5 Q186,144 180.5,146 Q174.5,145.5 174.2,139 Z" fill="#fff" stroke-width="1.1"/>
</g>
</g>
<path d="M291.8,106.8 Q303,122 304.3,140 Q304.5,154 300.7,163.7" fill="none" stroke="#222" stroke-width="1.5"/><polygon points="291.8,160.1 304.8,165.5 288.3,182.2" fill="#111"/>
<g transform="translate(769,1298)" fill="none" stroke="#222" stroke-width="1.1" stroke-linejoin="round">
<path d="M33.5,118.4 L59.2,118.4 M240.7,119.5 L260,119.5" stroke="#444" stroke-width="1.1"/>
<path d="M33.5,156.9 L59.2,156.9 M240.7,153.7 L260,153.7" stroke="#444" stroke-width="2.2"/>
<path d="M77.3,90.7 L59.2,98 L59.2,118 L63,120 L63,156 L59.2,158 L59.2,178 L62,181.5 L82.7,181.5" fill="#fff"/>
<path d="M77.3,90.7 L230,94.5 Q233,95 233,98 L233,108.8 L77.3,108.8 Z" fill="#fff"/>
<path d="M82.7,108.8 L240.7,108.8 L240.7,159 L82.7,159 Z" fill="#fff"/>
<path d="M82.7,159 L234,158 L234,177 L82.7,181.5 Z" fill="#fff"/>
<path d="M94.5,91.5 L94.5,108.8"/>
<circle cx="85.9" cy="99.3" r="3.4" fill="#555" stroke="#222"/>
<path d="M84.4,100.8 L87.4,97.8" stroke="#ddd" stroke-width="0.8"/>
<path d="M82.7,108.8 L82.7,159"/>
<path d="M84.7,122 L99.7,122 L98.5,127 L98.5,137 L99.7,142 L84.7,142 L85.9,137 L85.9,127 Z" fill="#151515" stroke="none"/>
<path d="M83.9,123 Q82.4,132 83.9,141" stroke="#777" stroke-width="1.3"/>
<path d="M82.7,159 L82.7,181.5"/>
<circle cx="91.5" cy="172.2" r="3.6" fill="#555" stroke="#222"/>
<path d="M90.0,173.7 L93.0,170.7" stroke="#ddd" stroke-width="0.8"/>
<path d="M88.2,176.0 L88.2,181.0 M94.7,176.0 L94.7,181.0" stroke="#444" stroke-width="0.9"/>
<path d="M111.7,91.5 L111.7,108.8"/>
<circle cx="103.1" cy="99.6" r="3.4" fill="#555" stroke="#222"/>
<path d="M101.6,101.1 L104.6,98.1" stroke="#ddd" stroke-width="0.8"/>
<path d="M100.2,108.8 L100.2,159"/>
<path d="M102.2,122 L117.2,122 L116.0,127 L116.0,137 L117.2,142 L102.2,142 L103.5,137 L103.5,127 Z" fill="#151515" stroke="none"/>
<path d="M101.5,123 Q100.0,132 101.5,141" stroke="#777" stroke-width="1.3"/>
<path d="M100.2,159 L100.2,181.5"/>
<circle cx="109.0" cy="171.9" r="3.6" fill="#555" stroke="#222"/>
<path d="M107.5,173.4 L110.5,170.4" stroke="#ddd" stroke-width="0.8"/>
<path d="M105.8,175.8 L105.8,180.7 M112.2,175.8 L112.2,180.7" stroke="#444" stroke-width="0.9"/>
<path d="M128.9,91.5 L128.9,108.8"/>
<circle cx="120.3" cy="99.9" r="3.4" fill="#555" stroke="#222"/>
<path d="M118.8,101.4 L121.8,98.4" stroke="#ddd" stroke-width="0.8"/>
<path d="M117.8,108.8 L117.8,159"/>
<path d="M119.8,122 L134.8,122 L133.6,127 L133.6,137 L134.8,142 L119.8,142 L121.0,137 L121.0,127 Z" fill="#151515" stroke="none"/>
<path d="M119.0,123 Q117.5,132 119.0,141" stroke="#777" stroke-width="1.3"/>
<path d="M117.8,159 L117.8,181.5"/>
<circle cx="126.6" cy="171.7" r="3.6" fill="#555" stroke="#222"/>
<path d="M125.1,173.2 L128.1,170.2" stroke="#ddd" stroke-width="0.8"/>
<path d="M123.3,175.5 L123.3,180.4 M129.8,175.5 L129.8,180.4" stroke="#444" stroke-width="0.9"/>
<path d="M146.1,91.5 L146.1,108.8"/>
<circle cx="137.5" cy="100.2" r="3.4" fill="#555" stroke="#222"/>
<path d="M136.0,101.7 L139.0,98.7" stroke="#ddd" stroke-width="0.8"/>
<path d="M135.4,108.8 L135.4,159"/>
<path d="M137.4,122 L152.4,122 L151.2,127 L151.2,137 L152.4,142 L137.4,142 L138.6,137 L138.6,127 Z" fill="#151515" stroke="none"/>
<path d="M136.6,123 Q135.1,132 136.6,141" stroke="#777" stroke-width="1.3"/>
<path d="M135.4,159 L135.4,181.5"/>
<circle cx="144.2" cy="171.4" r="3.6" fill="#555" stroke="#222"/>
<path d="M142.7,172.9 L145.7,169.9" stroke="#ddd" stroke-width="0.8"/>
<path d="M140.9,175.2 L140.9,180.1 M147.4,175.2 L147.4,180.1" stroke="#444" stroke-width="0.9"/>
<path d="M163.3,91.5 L163.3,108.8"/>
<circle cx="154.7" cy="100.5" r="3.4" fill="#555" stroke="#222"/>
<path d="M153.2,102.0 L156.2,99.0" stroke="#ddd" stroke-width="0.8"/>
<path d="M152.9,108.8 L152.9,159"/>
<path d="M154.9,122 L169.9,122 L168.7,127 L168.7,137 L169.9,142 L154.9,142 L156.1,137 L156.1,127 Z" fill="#151515" stroke="none"/>
<path d="M154.1,123 Q152.6,132 154.1,141" stroke="#777" stroke-width="1.3"/>
<path d="M152.9,159 L152.9,181.5"/>
<circle cx="161.7" cy="171.2" r="3.6" fill="#555" stroke="#222"/>
<path d="M160.2,172.7 L163.2,169.7" stroke="#ddd" stroke-width="0.8"/>
<path d="M158.4,175.0 L158.4,179.8 M164.9,175.0 L164.9,179.8" stroke="#444" stroke-width="0.9"/>
<path d="M180.5,91.5 L180.5,108.8"/>
<circle cx="171.9" cy="100.8" r="3.4" fill="#555" stroke="#222"/>
<path d="M170.4,102.3 L173.4,99.3" stroke="#ddd" stroke-width="0.8"/>
<path d="M170.4,108.8 L170.4,159"/>
<path d="M172.4,122 L187.4,122 L186.2,127 L186.2,137 L187.4,142 L172.4,142 L173.6,137 L173.6,127 Z" fill="#151515" stroke="none"/>
<path d="M171.6,123 Q170.1,132 171.6,141" stroke="#777" stroke-width="1.3"/>
<path d="M170.4,159 L170.4,181.5"/>
<circle cx="179.2" cy="170.9" r="3.6" fill="#555" stroke="#222"/>
<path d="M177.8,172.4 L180.8,169.4" stroke="#ddd" stroke-width="0.8"/>
<path d="M175.9,174.8 L175.9,179.5 M182.4,174.8 L182.4,179.5" stroke="#444" stroke-width="0.9"/>
<path d="M197.7,91.5 L197.7,108.8"/>
<circle cx="189.1" cy="101.1" r="3.4" fill="#555" stroke="#222"/>
<path d="M187.6,102.6 L190.6,99.6" stroke="#ddd" stroke-width="0.8"/>
<path d="M188.0,108.8 L188.0,159"/>
<path d="M190.0,122 L205.0,122 L203.8,127 L203.8,137 L205.0,142 L190.0,142 L191.2,137 L191.2,127 Z" fill="#151515" stroke="none"/>
<path d="M189.2,123 Q187.7,132 189.2,141" stroke="#777" stroke-width="1.3"/>
<path d="M188.0,159 L188.0,181.5"/>
<circle cx="196.8" cy="170.7" r="3.6" fill="#555" stroke="#222"/>
<path d="M195.3,172.2 L198.3,169.2" stroke="#ddd" stroke-width="0.8"/>
<path d="M193.5,174.5 L193.5,179.2 M200.0,174.5 L200.0,179.2" stroke="#444" stroke-width="0.9"/>
<path d="M214.9,91.5 L214.9,108.8"/>
<circle cx="206.3" cy="101.4" r="3.4" fill="#555" stroke="#222"/>
<path d="M204.8,102.9 L207.8,99.9" stroke="#ddd" stroke-width="0.8"/>
<path d="M205.6,108.8 L205.6,159"/>
<path d="M207.6,122 L222.6,122 L221.4,127 L221.4,137 L222.6,142 L207.6,142 L208.8,137 L208.8,127 Z" fill="#151515" stroke="none"/>
<path d="M206.8,123 Q205.2,132 206.8,141" stroke="#777" stroke-width="1.3"/>
<path d="M205.6,159 L205.6,181.5"/>
<circle cx="214.4" cy="170.4" r="3.6" fill="#555" stroke="#222"/>
<path d="M212.9,171.9 L215.9,168.9" stroke="#ddd" stroke-width="0.8"/>
<path d="M211.1,174.2 L211.1,178.9 M217.6,174.2 L217.6,178.9" stroke="#444" stroke-width="0.9"/>
<path d="M232.1,91.5 L232.1,108.8"/>
<circle cx="223.5" cy="101.7" r="3.4" fill="#555" stroke="#222"/>
<path d="M222.0,103.2 L225.0,100.2" stroke="#ddd" stroke-width="0.8"/>
<path d="M223.1,108.8 L223.1,159"/>
<path d="M225.1,122 L240.1,122 L238.9,127 L238.9,137 L240.1,142 L225.1,142 L226.3,137 L226.3,127 Z" fill="#151515" stroke="none"/>
<path d="M224.3,123 Q222.8,132 224.3,141" stroke="#777" stroke-width="1.3"/>
<path d="M223.1,159 L223.1,181.5"/>
<circle cx="231.9" cy="170.2" r="3.6" fill="#555" stroke="#222"/>
<path d="M230.4,171.7 L233.4,168.7" stroke="#ddd" stroke-width="0.8"/>
<path d="M228.6,174.0 L228.6,178.6 M235.1,174.0 L235.1,178.6" stroke="#444" stroke-width="0.9"/>
<g transform="translate(-2,-4)">
<path d="M172.7,136.9 Q170,143 170.4,150.5 Q171,158 172.7,165.6 Q175,173 178,180.7 Q183,196 187,211 L182.5,206.5 Q174,208 169.7,212.5 Q164,217 165,221.6 Q166,230 171,236.7 L169.7,250.3 L201.4,254.8 L203.7,209.5 Q212,210 219.6,209.5 Q226,210.5 231.7,211 Q237,213 240.7,215.5 L236,209 Q222,206 219.6,209.5 Q216,205 213.5,202 Q210,195 207.5,188.3 Q203,181 200,174.7 Q196,166 192.3,158 Q188,150 184,143 Z" fill="#fff" stroke="none"/>
<path d="M172.7,136.9 Q170,143 170.4,150.5 Q171,158 172.7,165.6 Q175,173 178,180.7 Q183,196 187,211 M184,143 Q188,150 192.3,158 Q196,166 200,174.7 Q203,181 207.5,188.3 Q210,195 213.5,202 Q216,206 219.6,209.5 Q226,210.5 231.7,211 Q237,213 240.7,215.5" fill="none" stroke="#222" stroke-width="1.2"/>
<path d="M182.5,206.5 Q174,208 169.7,212.5 Q164,217 165,221.6 Q166,230 171,236.7 M169.7,250.3 Q176,242 183.3,236.7 Q191,243 198.4,250.3 M203.7,209.5 Q202,232 201.4,254.8" fill="none" stroke="#222" stroke-width="1.2"/>
<path d="M171.2,223 Q177,222.5 183.3,224.6" stroke-width="1.1"/>
<path d="M180,176 L181.5,181" stroke-width="1.0"/>
<path d="M174.2,139 Q178,134.5 183,138.5 Q186,144 180.5,146 Q174.5,145.5 174.2,139 Z" fill="#fff" stroke-width="1.1"/>
</g>
</g>
<path d="M1066,1484.6 Q1073,1465 1072.5,1452 Q1070,1438 1061,1429.5" fill="none" stroke="#222" stroke-width="1.5"/><polygon points="1051.5,1406.9 1069.3,1429.5 1056.3,1432.8" fill="#111"/>
<circle cx="63.6" cy="1327.6" r="35.6" fill="none" stroke="#1a1a1a" stroke-width="2.2"/>
<g fill="none" stroke="#1a1a1a" stroke-width="1.9" stroke-linecap="round" stroke-linejoin="round">
<path d="M41.8,1329 Q43,1309 61.5,1308.5 Q74,1309 78.5,1320 M41.8,1329 L82.6,1329"/>
<path d="M52,1310.5 Q49,1318 49.5,1329 M61.5,1308.5 L61.5,1329 M70.5,1311 Q73,1318 73,1329"/>
<path d="M61.5,1329 L61.5,1346 Q61.5,1350 57.3,1350 Q53.3,1350 53.3,1346.3"/>
<path d="M71.3,1303.5 Q67.5,1310 67.8,1312 Q68.5,1315.5 71.3,1315.5 Q74.2,1315.5 74.8,1312 Q75,1310 71.3,1303.5 Z" stroke-width="1.5" fill="#fff"/>
<path d="M78.8,1305 Q76.8,1308.5 77,1309.8 Q77.5,1311.5 78.8,1311.5 Q80.2,1311.5 80.6,1309.8 Q80.8,1308.5 78.8,1305 Z" stroke-width="1.3" fill="#fff"/>
<path d="M82.3,1314 Q79.5,1318.5 79.8,1320.3 Q80.5,1323 82.3,1323 Q84.3,1323 84.8,1320.3 Q85,1318.5 82.3,1314 Z" stroke-width="1.4" fill="#fff"/>
</g>
<circle cx="184" cy="1326.6" r="33.8" fill="none" stroke="#1a1a1a" stroke-width="2.1"/>
<defs><clipPath id="e27c"><circle cx="184" cy="1326.6" r="33"/></clipPath></defs>
<g clip-path="url(#e27c)" fill="#fff" stroke="#1a1a1a" stroke-width="1.6">
<path d="M169.7,1288 L172.7,1304.6 L195.2,1304.6 L198.1,1288"/>
<path d="M177.5,1288 L179,1304.6 M190.5,1288 L189,1304.6" stroke-width="1.2"/>
</g>
<rect x="172.7" y="1304.6" width="22.5" height="9.8" fill="#fff" stroke="#1a1a1a" stroke-width="1.6"/>
<path d="M174.6,1314.4 L174.6,1324 Q176,1329 183.4,1329.5 Q190.8,1329 192.2,1324 L192.2,1314.4" fill="#fff" stroke="#1a1a1a" stroke-width="1.6"/>
<line x1="175.2" y1="1317.0" x2="191.6" y2="1317.0" stroke="#333" stroke-width="1.1"/>
<line x1="175.2" y1="1319.9" x2="191.6" y2="1319.9" stroke="#333" stroke-width="1.1"/>
<line x1="175.2" y1="1322.8" x2="191.6" y2="1322.8" stroke="#333" stroke-width="1.1"/>
<line x1="175.2" y1="1325.7" x2="191.6" y2="1325.7" stroke="#333" stroke-width="1.1"/>
<path d="M178.5,1329 L188.3,1329" stroke="#111" stroke-width="2.2"/>
<text x="171.7" y="1349.6" font-size="15" font-weight="bold" fill="#222" text-anchor="start" textLength="23.5" lengthAdjust="spacingAndGlyphs">E27</text>
<polygon points="287.4,1322.8 303.6,1313.5 312.3,1328.6 324.4,1308.9 337.1,1292.7 347.5,1291 347,1297.4 349.3,1307.2 336,1318.2 324.4,1330.9 312.8,1344.2 301.3,1330.9" fill="#111"/>
<text x="290.3" y="1358.6" font-size="19.3" font-weight="bold" fill="#111" text-anchor="start" textLength="61.9" lengthAdjust="spacingAndGlyphs" stroke="#111" stroke-width="0.5">RoHS</text>
<text x="46.4" y="1382.6" font-size="16.3" font-weight="bold" fill="#1a1a1a" text-anchor="start" textLength="33.9" lengthAdjust="spacingAndGlyphs">IP20</text>
<text x="136.5" y="1382.6" font-size="16.3" font-weight="bold" fill="#1a1a1a" text-anchor="start" textLength="95.9" lengthAdjust="spacingAndGlyphs">Fassung E27</text>
<text x="264.8" y="1383.0" font-size="14.8" font-weight="bold" fill="#1a1a1a" text-anchor="start" textLength="103.0" lengthAdjust="spacingAndGlyphs">RoHS-Zertifikat</text>
<defs><mask id="lm"><rect x="0" y="1390" width="130" height="110" fill="#fff"/><polygon points="80.1,1402.2 47.7,1447.5 64,1445 48.8,1484 80.5,1439.5 64.5,1441" fill="#000" stroke="#000" stroke-width="7"/></mask></defs>
<circle cx="64.6" cy="1442.6" r="26.9" fill="none" stroke="#111" stroke-width="2.3" mask="url(#lm)"/>
<polygon points="80.1,1402.2 47.7,1447.5 64,1445 48.8,1484 80.5,1439.5 64.5,1441" fill="#111"/>
<circle cx="183.3" cy="1443.6" r="31.3" fill="none" stroke="#111" stroke-width="4"/>
<text x="158.2" y="1452.3" font-size="24" font-weight="bold" fill="#111" text-anchor="start" textLength="50.2" lengthAdjust="spacingAndGlyphs" stroke="#111" stroke-width="0.8">EMC</text>
<text x="22.2" y="1502.4" font-size="14.5" font-weight="bold" fill="#1a1a1a" text-anchor="start" textLength="82.8" lengthAdjust="spacingAndGlyphs">MAX 60Watt</text>
<text x="128.6" y="1502.4" font-size="14.5" font-weight="bold" fill="#1a1a1a" text-anchor="start" textLength="105.4" lengthAdjust="spacingAndGlyphs">EMC-Zertifikat</text>
<path d="M28.3,1562.2 L28.3,1543 L22.4,1543 L47,1517 L52.5,1522.8 L52.5,1517.9 L57.6,1517.9 L57.6,1528 L71.5,1543 L65.7,1543 L65.7,1562.2 Z" fill="none" stroke="#111" stroke-width="2" stroke-linejoin="miter"/>
<rect x="81.9" y="1525.1" width="28.9" height="30.4" fill="none" stroke="#222" stroke-width="1.7"/>
<rect x="89.9" y="1533.1" width="12.9" height="15" fill="none" stroke="#222" stroke-width="1.7"/>
<path d="M145.3,1518.3 L144,1518.3 A18.5,18.5 0 0 0 144,1555.3 L145.3,1555.3" fill="none" stroke="#0a0a0a" stroke-width="7"/>
<path d="M181.7,1518.3 L180.6,1518.3 A18.5,18.5 0 0 0 180.6,1555.3 L181.7,1555.3" fill="none" stroke="#0a0a0a" stroke-width="7"/>
<rect x="163.2" y="1533.9" width="14.5" height="5.8" fill="#0a0a0a"/>
<g fill="none" stroke="#444" stroke-width="1.2">
<path d="M196.5,1514 L225.5,1547.2 M196.5,1547.2 L219,1520"/>
<path d="M205.5,1521 L207.5,1543.5 L217.5,1543.5 L219.5,1521 Z"/>
<path d="M204.5,1521 L220.5,1521 M207,1517.5 L218,1517.5 L218,1521 M207,1517.5 L207,1521"/>
<circle cx="218.5" cy="1543" r="2.2"/>
</g>
<rect x="199" y="1554.7" width="25.5" height="7" fill="#111"/>
<circle cx="984.1" cy="771.5" r="28.2" fill="none" stroke="#9b7373" stroke-width="1.6"/>
<path d="M969.3,747.5 L998.3,796 M994.5,746.5 L971.2,796.4" stroke="#8a7070" stroke-width="1.5"/>
<path d="M977.4,777.4 Q975,771 972.8,767 Q971,763 972,760 Q974.5,753 983.6,753 Q992.5,753 995,760 Q996,763 994.3,767 Q992,771 990.5,777.4" fill="none" stroke="#555" stroke-width="1.5"/>
<path d="M978,777.4 L989.8,777.4 L989.2,787 Q986.5,791.5 983.8,791.5 Q981,791.5 978.6,787 Z" fill="#333"/>
</svg>
</body></html>
